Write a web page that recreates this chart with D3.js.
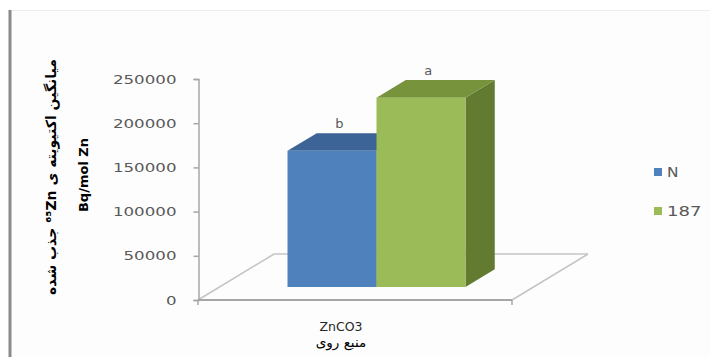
<!DOCTYPE html>
<html>
<head>
<meta charset="utf-8">
<script src="https://cdn.jsdelivr.net/npm/d3@7"></script>
<style>
  html, body { margin: 0; padding: 0; background: #ffffff; }
  svg { display: block; }
  text { font-family: "DejaVu Sans", "Liberation Sans", sans-serif; }
</style>
</head>
<body>
<svg id="chart" width="710" height="357"></svg>
<script>
// Chart data
const categories = ["ZnCO3"];
const seriesNames = ["N", "187"];
const seriesValues = [154000, 214000];
const seriesLetters = ["b", "a"];
const yTicks = [0, 50000, 100000, 150000, 200000, 250000];
const xTitle = "منبع روی";
const yTitleLine2 = "Bq/mol Zn";

// Colours for each series: front face, top face, side face
const frontColors = ["#4f81bd", "#9bbb59"];
const topColors = ["#3c6496", "#77933c"];
const sideColors = ["#2f5582", "#627b31"];

const svg = d3.select("#chart");

// Panel frame
svg.append("rect").attr("x", 10).attr("y", 10).attr("width", 700).attr("height", 347)
  .attr("fill", "#fdfdfd");
svg.append("line").attr("x1", 10).attr("x2", 710).attr("y1", 10.5).attr("y2", 10.5)
  .attr("stroke", "#eeeeee").attr("stroke-width", 1);
svg.append("line").attr("x1", 10).attr("x2", 10).attr("y1", 10).attr("y2", 357)
  .attr("stroke", "#8a8a8a").attr("stroke-width", 3);

// Front-plane scales
const y = d3.scaleLinear().domain([0, 250000]).range([300, 79]);
const x = d3.scaleBand().domain(categories).range([198, 512]);
const depthX = 76, depthY = 46;      // floor depth vector
const barD0 = 0.283, barD1 = 0.668;  // bar depth span (0 = front, 1 = back)

// oblique projection: front-plane x, value, depth -> screen
const proj = (fx, v, d) => [fx + d * depthX, y(v) - d * depthY];

// Floor
const floorPts = [proj(198, 0, 0), proj(512, 0, 0), proj(512, 0, 1), proj(198, 0, 1)];
const g = svg.append("g");
[[3, 2], [0, 3], [1, 2]].forEach(([a, b]) => {
  g.append("line")
    .attr("x1", floorPts[a][0]).attr("y1", floorPts[a][1])
    .attr("x2", floorPts[b][0]).attr("y2", floorPts[b][1])
    .attr("stroke", "#c4c4c4").attr("stroke-width", 1.5);
});

// Bars
const xs = d3.scaleBand().domain(seriesNames)
  .range([x(categories[0]) + 68, x(categories[0]) + x.bandwidth() - 68]);

const poly = pts => pts.map(p => p.join(",")).join(" ");

seriesNames.forEach((s, i) => {
  const v = seriesValues[i];
  const x0 = xs(s), x1 = xs(s) + xs.bandwidth();
  const bars = g.append("g");
  // right side face
  bars.append("polygon")
    .attr("points", poly([proj(x1, 0, barD0), proj(x1, 0, barD1), proj(x1, v, barD1), proj(x1, v, barD0)]))
    .attr("fill", sideColors[i]);
  // top face
  bars.append("polygon")
    .attr("points", poly([proj(x0, v, barD0), proj(x1, v, barD0), proj(x1, v, barD1), proj(x0, v, barD1)]))
    .attr("fill", topColors[i]);
  // front face
  bars.append("polygon")
    .attr("points", poly([proj(x0, 0, barD0), proj(x1, 0, barD0), proj(x1, v, barD0), proj(x0, v, barD0)]))
    .attr("fill", frontColors[i]);
  // significance letter above the bar
  const top = proj((x0 + x1) / 2, v, barD1);
  g.append("text")
    .attr("x", top[0] - 22).attr("y", top[1] - 5)
    .attr("text-anchor", "middle")
    .attr("font-size", 13).attr("fill", "#595959")
    .text(seriesLetters[i]);
});

// Front floor edge (category axis)
g.append("line").attr("x1", 198).attr("x2", 512).attr("y1", 300).attr("y2", 300)
  .attr("stroke", "#a6a6a6").attr("stroke-width", 2);
g.selectAll(".ctick").data([198, 512]).join("line")
  .attr("x1", d => d).attr("x2", d => d).attr("y1", 300).attr("y2", 305)
  .attr("stroke", "#a6a6a6").attr("stroke-width", 1.5);

// Value axis
const yAxis = svg.append("g").attr("transform", "translate(198.5,0)")
  .call(d3.axisLeft(y).tickValues(yTicks).tickSize(5).tickPadding(17).tickFormat(d3.format("d")));
yAxis.select(".domain").attr("stroke", "#a6a6a6").attr("stroke-width", 1.5);
yAxis.selectAll(".tick line").attr("stroke", "#a6a6a6").attr("stroke-width", 1.5);
yAxis.selectAll(".tick text")
  .attr("font-family", "DejaVu Sans, sans-serif")
  .attr("font-size", 13).attr("fill", "#595959")
  .attr("textLength", d => String(d).length * 10.6)
  .attr("lengthAdjust", "spacingAndGlyphs");

// Category label and axis title
svg.append("text").attr("x", 341).attr("y", 331)
  .attr("text-anchor", "middle").attr("font-size", 12.5).attr("fill", "#262626")
  .text(categories[0]);
svg.append("text").attr("x", 341).attr("y", 347)
  .attr("text-anchor", "middle").attr("font-size", 13.5).attr("fill", "#000000")
  .attr("direction", "rtl")
  .text(xTitle);

// Value axis title (two lines, rotated)
svg.append("text")
  .attr("transform", "translate(56,177) rotate(-90)")
  .attr("text-anchor", "middle").attr("font-size", 14).attr("font-weight", "bold")
  .attr("fill", "#000000").attr("direction", "rtl")
  .text("میانگین اکتیویته ی ⁶⁵Zn جذب شده");
svg.append("text")
  .attr("transform", "translate(88,175) rotate(-90)")
  .attr("text-anchor", "middle").attr("font-size", 13).attr("font-weight", "bold")
  .attr("fill", "#000000")
  .text(yTitleLine2);

// Legend
const legend = svg.append("g");
seriesNames.forEach((s, i) => {
  const ly = 172 + i * 39;
  legend.append("rect").attr("x", 654).attr("y", ly - 4).attr("width", 8).attr("height", 8)
    .attr("fill", frontColors[i]);
  legend.append("text").attr("x", 667).attr("y", ly + 5)
    .attr("font-size", 14).attr("fill", "#595959")
    .attr("textLength", s.length * 11.5).attr("lengthAdjust", "spacingAndGlyphs")
    .text(s);
});
</script>
</body>
</html>
